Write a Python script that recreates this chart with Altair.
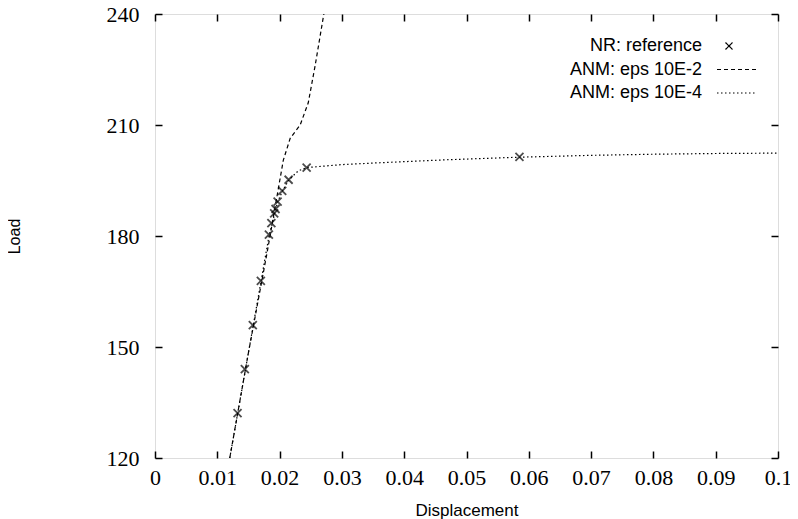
import altair as alt
import pandas as pd

# ---- data ----
NR = "NR: reference"
E2 = "ANM: eps 10E-2"
E4 = "ANM: eps 10E-4"
series_names = [NR, E2, E4]

nr_x = [0.01325, 0.01442, 0.0157, 0.01699, 0.01828, 0.01868, 0.01913, 0.01935,
        0.01968, 0.02042, 0.02145, 0.02434, 0.0585]
nr_y = [132.1, 144.05, 155.9, 167.9, 180.4, 183.5, 186.1, 187.3,
        189.3, 192.2, 195.2, 198.5, 201.4]

e2_x = [0.0120, 0.0150, 0.0181, 0.0206, 0.0217, 0.0233, 0.0246, 0.0257, 0.0271]
e2_y = [120.0, 148.5, 176.5, 200.5, 206.4, 210.0, 216.0, 226.0, 240.0]

e4_x = [0.0120, 0.0150, 0.0183, 0.0197, 0.0205, 0.0215, 0.0230, 0.0244, 0.0300,
        0.0361, 0.0468, 0.0585, 0.0700, 0.0800, 0.0900, 0.1000]
e4_y = [120.0, 148.5, 180.0, 189.3, 192.3, 195.2, 197.6, 198.5, 199.3,
        199.8, 200.6, 201.3, 201.8, 202.1, 202.3, 202.4]

x_ticks = [0, 0.01, 0.02, 0.03, 0.04, 0.05, 0.06, 0.07, 0.08, 0.09, 0.1]
y_ticks = [120, 150, 180, 210, 240]

# ---- tables ----
lines_df = pd.concat([
    pd.DataFrame({"series": E2, "x": e2_x, "y": e2_y, "o": range(len(e2_x))}),
    pd.DataFrame({"series": E4, "x": e4_x, "y": e4_y, "o": range(len(e4_x))}),
])
pts_df = pd.DataFrame({"series": NR, "x": nr_x, "y": nr_y})

XPATH = "M-1,-1L1,1M-1,1L1,-1"
XLEG = "M-2.3,-0.7L-0.9,0.7M-2.3,0.7L-0.9,-0.7"
LLEG = "M-4,0L4,0"
SERIF = "Liberation Serif"
SANS = "Liberation Sans"

xscale = alt.Scale(domain=[0, 0.1], nice=False, zero=False)
yscale = alt.Scale(domain=[120, 240], nice=False, zero=False)

common_axis = dict(domain=False, grid=False, tickColor="black", tickWidth=1.5,
                   tickSize=7, offset=-7, labelFont=SERIF, labelFontSize=22,
                   labelColor="black", titleFont=SANS,
                   titleFontWeight="normal", titleColor="black")

x_bottom = alt.Axis(orient="bottom", values=x_ticks, format="~g", labelPadding=9,
                    title="Displacement", titleX=311.5, titleY=59, titleFontSize=17,
                    titleBaseline="middle", titleAlign="center",
                    labelFlush=False, labelOverlap=False, **common_axis)
y_left = alt.Axis(orient="left", values=y_ticks, format="d", labelPadding=16,
                  title="Load", titleX=-147.5, titleY=222, titleAngle=-90, titleFontSize=16,
                  titleBaseline="middle", titleAlign="center",
                  labelFlush=False, labelOverlap=False, **common_axis)
x_top = alt.Axis(orient="top", values=x_ticks, labels=False, title=None,
                 domain=False, grid=False, tickColor="black", tickWidth=1.5,
                 tickSize=7, offset=-7)
y_right = alt.Axis(orient="right", values=y_ticks, labels=False, title=None,
                   domain=False, grid=False, tickColor="black", tickWidth=1.5,
                   tickSize=7, offset=-7)

legend = alt.Legend(
    orient="none", legendX=573, legendY=23, title=None,
    labelAlign="right", labelOffset={"expr": "-44"}, labelFont=SANS, labelFontSize=18,
    labelColor="black", labelLimit=0,
    symbolType={"expr": f"datum.value === '{NR}' ? '{XLEG}' : '{LLEG}'"},
    symbolSize=100,
    symbolStrokeColor="black", symbolStrokeWidth=1.2, symbolFillColor="transparent",
    rowPadding=5.5, padding=0,
)

lines = alt.Chart(lines_df).mark_line(color="black", strokeWidth=1.2, clip=True).encode(
    x=alt.X("x:Q", scale=xscale, axis=x_bottom),
    y=alt.Y("y:Q", scale=yscale, axis=y_left),
    order="o:Q",
    strokeDash=alt.StrokeDash(
        "series:N",
        scale=alt.Scale(domain=series_names, range=[[1, 0], [4, 3], [1.5, 2.5]]),
        legend=legend,
    ),
)

points = alt.Chart(pts_df).mark_point(
    shape=XPATH, filled=False, size=64, strokeWidth=1.8, color="black", clip=True
).encode(
    x=alt.X("x:Q", scale=xscale, axis=x_top),
    y=alt.Y("y:Q", scale=yscale, axis=y_right),
)

chart = (
    alt.layer(lines, points)
    .resolve_axis(x="independent", y="independent")
    .properties(
        width=623, height=444,
        autosize=alt.AutoSizeParams(type="none"),
        padding={"left": 147, "top": 6, "right": 12, "bottom": 61},
    )
    .configure_view(stroke="black", strokeWidth=2)
    .configure(background="white")
)

chart.save("out.html", embed_options={"renderer": "svg", "actions": False})
